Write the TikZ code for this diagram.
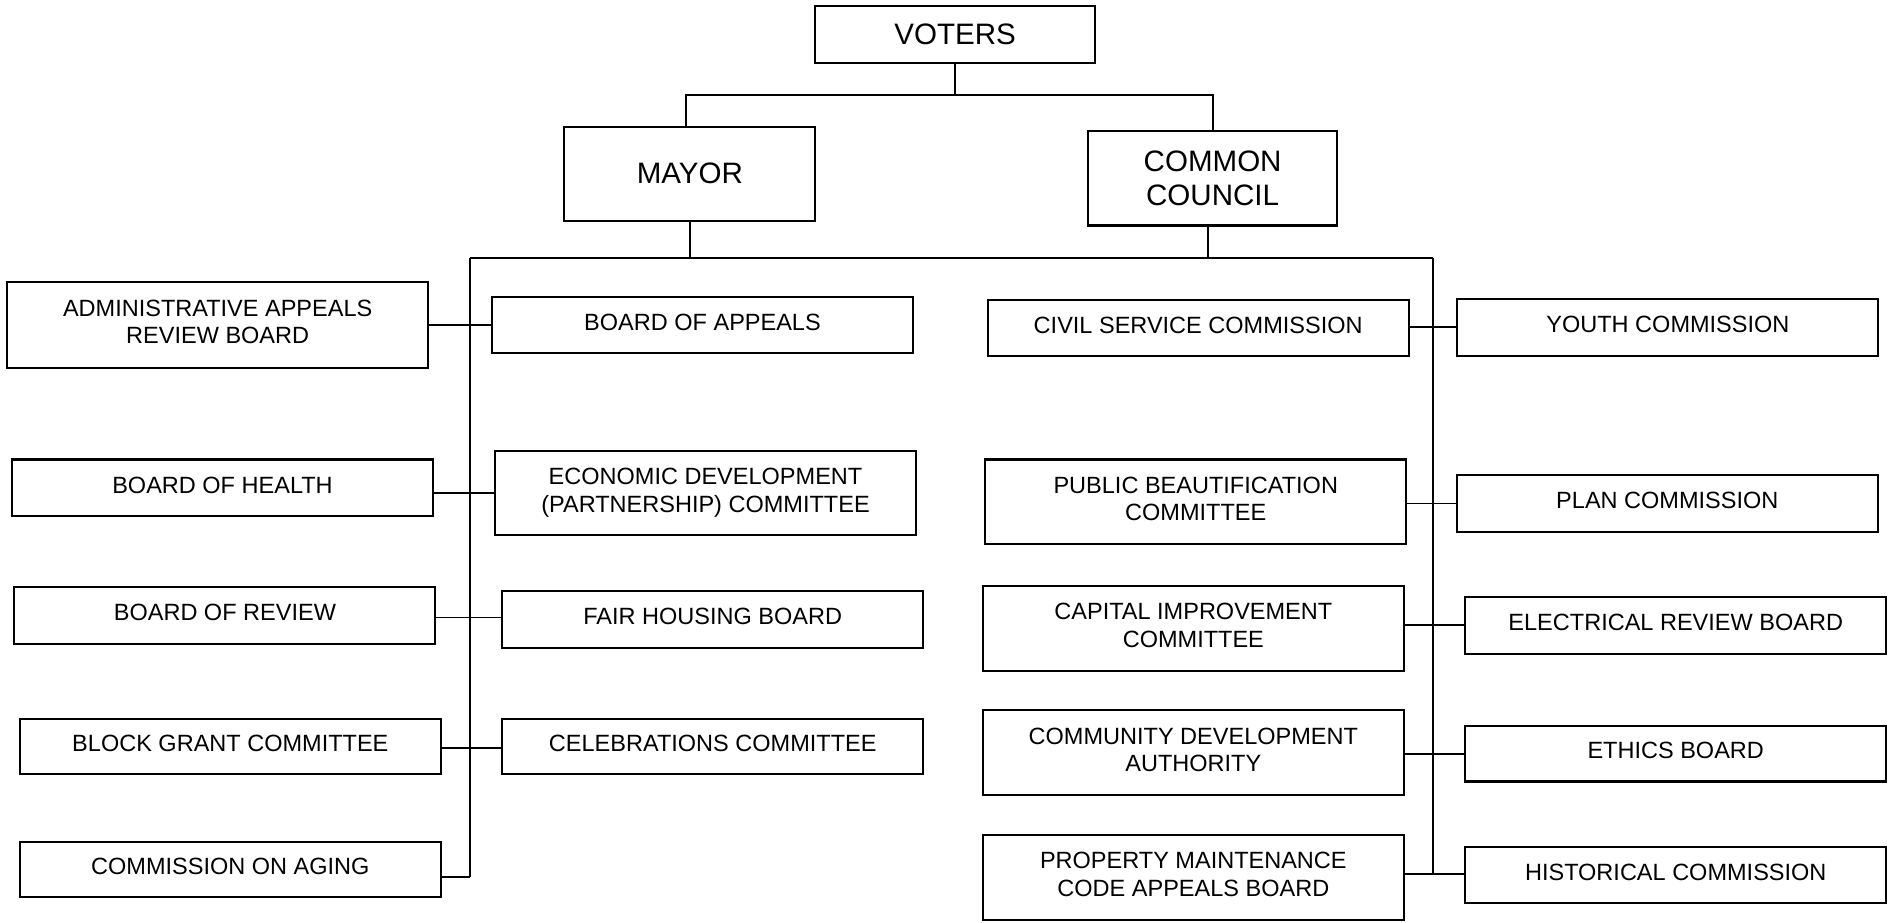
\documentclass[tikz,border=0pt]{standalone}
\usepackage{fontspec}
\setmainfont{Liberation Sans}
\begin{document}
\begin{tikzpicture}[x=1pt,y=-1pt,
  box/.style={draw, line width=1.7pt, inner sep=0pt, align=center,
    minimum width=349pt, minimum height=47pt, text depth=5pt,
    font=\fontsize{19.5}{22.5}\selectfont},
  tall/.style={minimum height=70pt},
  topbox/.style={draw, line width=1.7pt, inner sep=0pt, align=center,
    font=\fontsize{24.5}{28}\selectfont},
  link/.style={line width=1.6pt}]
\useasboundingbox (0,0) rectangle (1568,765);
% top level
\node[topbox, minimum width=232pt, minimum height=47pt] (voters) at (792,28.5) {VOTERS};
\node[topbox, minimum width=208pt, minimum height=78pt] (mayor) at (572,144) {MAYOR};
\node[topbox, minimum width=207pt, minimum height=78pt] (ccl) at (1005.5,148) {COMMON\\COUNCIL};
% left columns
\node[box, tall, minimum height=71pt] (adm) at (180.5,269.5) {ADMINISTRATIVE APPEALS\\REVIEW BOARD};
\node[box] (health) at (184.5,404.5) {BOARD OF HEALTH};
\node[box] (review) at (186.5,510.5) {BOARD OF REVIEW};
\node[box, minimum height=46pt] (block) at (191,619) {BLOCK GRANT COMMITTEE};
\node[box, minimum height=46pt] (aging) at (191,721) {COMMISSION ON AGING};
\node[box] (boa) at (582.5,269.5) {BOARD OF APPEALS};
\node[box, tall] (econ) at (585,409) {ECONOMIC DEVELOPMENT\\(PARTNERSHIP) COMMITTEE};
\node[box] (fair) at (591,513.5) {FAIR HOUSING BOARD};
\node[box, minimum height=46pt] (celeb) at (591,619) {CELEBRATIONS COMMITTEE};
% right columns
\node[box, minimum height=46pt] (civil) at (993.5,272) {CIVIL SERVICE COMMISSION};
\node[box, tall] (public) at (991.5,416) {PUBLIC BEAUTIFICATION\\COMMITTEE};
\node[box, tall] (capital) at (989.5,521) {CAPITAL IMPROVEMENT\\COMMITTEE};
\node[box, tall] (community) at (989.5,624) {COMMUNITY DEVELOPMENT\\AUTHORITY};
\node[box, tall, minimum height=71pt] (property) at (989.5,727.5) {PROPERTY MAINTENANCE\\CODE APPEALS BOARD};
\node[box] (youth) at (1383,271.5) {YOUTH COMMISSION};
\node[box] (plan) at (1382.5,417.5) {PLAN COMMISSION};
\node[box] (electrical) at (1389.5,518.5) {ELECTRICAL REVIEW BOARD};
\node[box, minimum height=46pt] (ethics) at (1389.5,625) {ETHICS BOARD};
\node[box] (historical) at (1389.5,725.5) {HISTORICAL COMMISSION};
% junction coordinates
\coordinate (j1) at (792,79);
\coordinate (bl) at (390,214);
\coordinate (br) at (1188,214);
\coordinate (lend) at (390,727);
\coordinate (rend) at (1188,725);
% top connectors
\draw[link] (voters.south) -- (j1);
\draw[link] ([xshift=-3pt]mayor.north) |- (j1);
\draw[link] ([xshift=0.5pt]ccl.north) |- (j1);
\draw[link] (mayor.south) -- (mayor.south |- bl);
\draw[link] ([xshift=-3.5pt]ccl.south) -- ([xshift=-3.5pt]ccl.south |- bl);
\draw[link] (bl) -- (br);
\draw[link] (bl) -- (lend);
\draw[link] (br) -- (rend);
% left branches
\draw[link] (adm.east) -- (boa.west);
\draw[link] (health.east |- econ.west) -- (econ.west);
\draw[link] ([yshift=-1.5pt]review.east) -- ([yshift=-1.5pt]review.east -| fair.west);
\draw[link] ([yshift=-1pt]block.east) -- ([yshift=-1pt]celeb.west);
\draw[link] (aging.east |- lend) -- (lend);
% right branches
\draw[link] ([yshift=1pt]civil.east) -- ([yshift=1pt]civil.east -| youth.west);
\draw[link] (public.east |- plan.west) -- (plan.west);
\draw[link] (capital.east |- electrical.west) -- (electrical.west);
\draw[link] (community.east |- ethics.west) -- (ethics.west);
\draw[link] (property.east |- rend) -- (historical.west |- rend);
\end{tikzpicture}
\end{document}
